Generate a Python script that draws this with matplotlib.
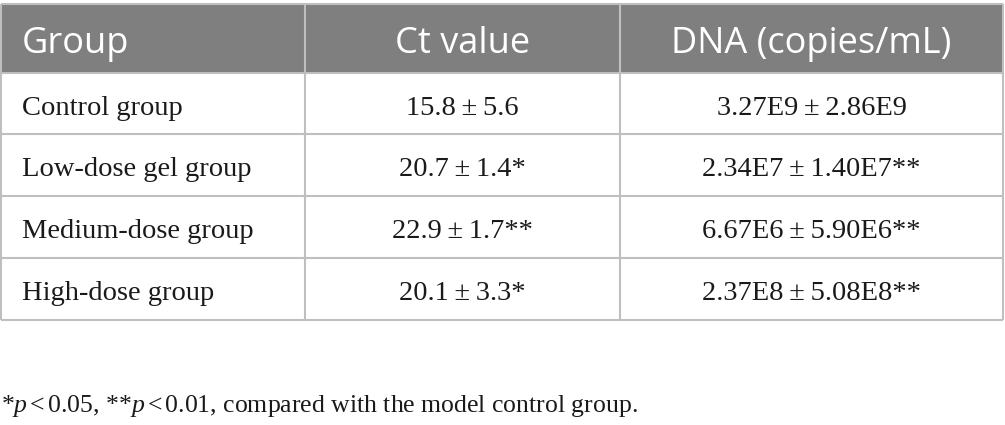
import matplotlib.pyplot as plt
from matplotlib.patches import Rectangle

# ========================================================
# DATA

HEADERS = ["Group", "Ct value", "DNA (copies/mL)"]
GROUPS = ["Control group", "Low-dose gel group", "Medium-dose group", "High-dose group"]
CT_VALUES = ["15.8\u2009±\u20095.6", "20.7\u2009±\u20091.4*", "22.9\u2009±\u20091.7**", "20.1\u2009±\u20093.3*"]
DNA_VALUES = [
    "3.27E9\u2009±\u20092.86E9",
    "2.34E7\u2009±\u20091.40E7**",
    "6.67E6\u2009±\u20095.90E6**",
    "2.37E8\u2009±\u20095.08E8**",
]
FOOTNOTE = r"*$p$$\,$<$\,$0.05, **$p$$\,$<$\,$0.01, compared with the model control group."

# ========================================================
# LAYOUT (pixels)

W, H = 1005, 425
COL_EDGES = [1, 305, 620, 1003]
ROW_EDGES = [4, 73, 134, 196, 258, 320]
HEADER_COLOR = "#7f7f7f"
LINE_COLOR = "#bfbfbf"
LW = 1.5
TEXT_COLOR = "#1a1a1a"

plt.rcParams["mathtext.fontset"] = "custom"
plt.rcParams["mathtext.rm"] = "Liberation Serif"
plt.rcParams["mathtext.it"] = "Liberation Serif:italic"

fig = plt.figure(figsize=(W / 100, H / 100), dpi=100)
ax = fig.add_axes([0, 0, 1, 1])
ax.set_xlim(0, W)
ax.set_ylim(H, 0)
ax.axis("off")

# header band
ax.add_patch(Rectangle((COL_EDGES[0], ROW_EDGES[0]), COL_EDGES[-1] - COL_EDGES[0],
                       ROW_EDGES[1] - ROW_EDGES[0], facecolor=HEADER_COLOR, edgecolor="none"))

# grid lines
for y in ROW_EDGES:
    ax.plot([COL_EDGES[0], COL_EDGES[-1]], [y, y], color=LINE_COLOR, lw=LW, solid_capstyle="butt")
for x in COL_EDGES:
    ax.plot([x, x], [ROW_EDGES[0], ROW_EDGES[-1]], color=LINE_COLOR, lw=LW, solid_capstyle="butt")


def text_x(c):
    if c == 0:
        return COL_EDGES[0] + 21, "left"
    return (COL_EDGES[c] + COL_EDGES[c + 1]) / 2, "center"


# header text
for c, h in enumerate(HEADERS):
    x, ha = text_x(c)
    ax.text(x, ROW_EDGES[0] + 49, h, ha=ha, va="baseline", color="white",
            family="Open Sans", fontsize=26)

# body
for r in range(len(GROUPS)):
    row = [GROUPS[r], CT_VALUES[r], DNA_VALUES[r]]
    for c, val in enumerate(row):
        x, ha = text_x(c)
        ax.text(x, ROW_EDGES[r + 1] + 41.5, val, ha=ha, va="baseline", color=TEXT_COLOR,
                family="Liberation Serif", fontsize=20.5)

ax.text(1, 412, FOOTNOTE, ha="left", va="baseline", color=TEXT_COLOR,
        family="Liberation Serif", fontsize=18.5)

fig.savefig("out.png", dpi=100)
